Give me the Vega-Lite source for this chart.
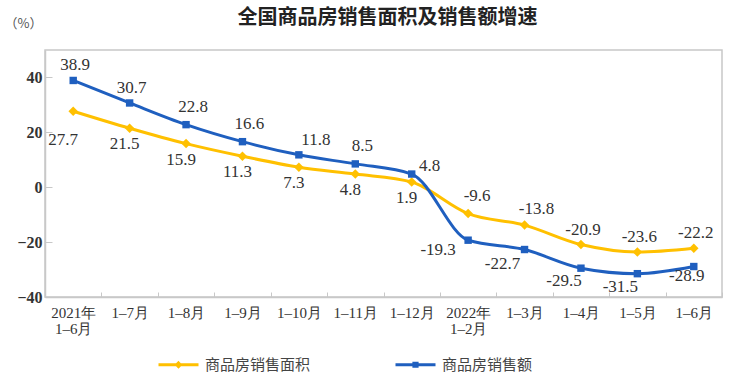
{
  "$schema": "https://vega.github.io/schema/vega-lite/v6.json",
  "width": 677,
  "height": 247,
  "autosize": {"type": "none"},
  "padding": {"left": 45, "top": 50, "right": 28, "bottom": 92},
  "background": "white",
  "title": {"text": "全国商品房销售面积及销售额增速", "font": "Noto Sans CJK SC", "fontSize": 20, "fontWeight": "bold", "color": "#222", "offset": 0, "dy": 11, "dx": 4, "anchor": "middle"},
  "config": {"view": {"stroke": "#c8c8c8", "strokeWidth": 1.5}},
  "data": {"values": [
    {"s": "商品房销售面积", "p": "2021年|1–6月", "v": 27.7},
    {"s": "商品房销售面积", "p": "1–7月", "v": 21.5},
    {"s": "商品房销售面积", "p": "1–8月", "v": 15.9},
    {"s": "商品房销售面积", "p": "1–9月", "v": 11.3},
    {"s": "商品房销售面积", "p": "1–10月", "v": 7.3},
    {"s": "商品房销售面积", "p": "1–11月", "v": 4.8},
    {"s": "商品房销售面积", "p": "1–12月", "v": 1.9},
    {"s": "商品房销售面积", "p": "2022年|1–2月", "v": -9.6},
    {"s": "商品房销售面积", "p": "1–3月", "v": -13.8},
    {"s": "商品房销售面积", "p": "1–4月", "v": -20.9},
    {"s": "商品房销售面积", "p": "1–5月", "v": -23.6},
    {"s": "商品房销售面积", "p": "1–6月", "v": -22.2},
    {"s": "商品房销售额", "p": "2021年|1–6月", "v": 38.9},
    {"s": "商品房销售额", "p": "1–7月", "v": 30.7},
    {"s": "商品房销售额", "p": "1–8月", "v": 22.8},
    {"s": "商品房销售额", "p": "1–9月", "v": 16.6},
    {"s": "商品房销售额", "p": "1–10月", "v": 11.8},
    {"s": "商品房销售额", "p": "1–11月", "v": 8.5},
    {"s": "商品房销售额", "p": "1–12月", "v": 4.8},
    {"s": "商品房销售额", "p": "2022年|1–2月", "v": -19.3},
    {"s": "商品房销售额", "p": "1–3月", "v": -22.7},
    {"s": "商品房销售额", "p": "1–4月", "v": -29.5},
    {"s": "商品房销售额", "p": "1–5月", "v": -31.5},
    {"s": "商品房销售额", "p": "1–6月", "v": -28.9}
  ]},
  "encoding": {
    "x": {
      "field": "p", "type": "nominal", "bandPosition": 0.5,
      "scale": {"type": "band", "paddingInner": 0, "paddingOuter": 0,
        "domain": ["2021年|1–6月", "1–7月", "1–8月", "1–9月", "1–10月", "1–11月", "1–12月", "2022年|1–2月", "1–3月", "1–4月", "1–5月", "1–6月"]},
      "axis": {"title": null, "labelExpr": "split(datum.label, '|')", "labelAngle": 0, "tickBand": "extent", "tickSize": -5, "tickColor": "#c8c8c8", "domainColor": "#c8c8c8", "domainWidth": 1.5, "labelFont": "Liberation Serif", "labelFontSize": 15, "labelColor": "#333", "labelPadding": 13, "labelLineHeight": 16, "labelBaseline": "top"}
    },
    "y": {
      "field": "v", "type": "quantitative",
      "scale": {"domain": [-40, 50], "nice": false, "zero": false},
      "axis": {"values": [-40, -20, 0, 20, 40], "title": "（%）", "titleAngle": 0, "titleX": -22, "titleY": -27, "titleAlign": "center", "titleBaseline": "middle", "titleFont": "Noto Sans CJK SC", "titleFontWeight": "normal", "titleFontSize": 13, "titleColor": "#555", "grid": false, "tickSize": -7, "tickColor": "#c8c8c8", "domainColor": "#c8c8c8", "domainWidth": 1.5, "labelFont": "Liberation Serif", "labelFontWeight": "bold", "labelFontSize": 16, "labelColor": "#333", "labelPadding": 10}
    }
  },
  "layer": [
    {
      "mark": {"type": "line", "interpolate": "monotone", "strokeWidth": 3},
      "encoding": {
        "color": {"field": "s", "type": "nominal",
          "scale": {"domain": ["商品房销售面积", "商品房销售额"], "range": ["#FFC000", "#1F5FBF"]},
          "legend": {"title": null, "orient": "none", "legendX": 112, "legendY": 293, "direction": "horizontal", "symbolSize": 1600, "symbolStrokeWidth": 3, "labelFont": "Noto Sans CJK SC", "labelFontSize": 15, "labelColor": "#444", "columnPadding": 78, "labelOffset": 5,
            "encode": {"symbols": {"update": {
              "shape": {"signal": "datum.value === '商品房销售额' ? 'M-1,0H1M-0.08,-0.08H0.08V0.08H-0.08Z' : 'M-1,0H1M0,-0.09L0.09,0L0,0.09L-0.09,0Z'"},
              "fill": {"signal": "datum.value === '商品房销售额' ? '#1F5FBF' : '#FFC000'"},
              "stroke": {"signal": "datum.value === '商品房销售额' ? '#1F5FBF' : '#FFC000'"},
              "strokeWidth": {"value": 3},
              "opacity": {"value": 1}
            }}}}
        }
      }
    },
    {
      "transform": [{"filter": "datum.s === '商品房销售面积'"}],
      "mark": {"type": "point", "shape": "diamond", "filled": true, "opacity": 1, "size": 90, "color": "#FFC000"}
    },
    {
      "transform": [{"filter": "datum.s === '商品房销售额'"}],
      "mark": {"type": "point", "shape": "square", "filled": true, "opacity": 1, "size": 55, "color": "#1F5FBF"}
    },
    {
      "transform": [{"filter": "datum.s === '商品房销售额' && indexof(['2021年|1–6月','1–7月'], datum.p) >= 0"}],
      "mark": {"type": "text", "font": "Liberation Serif", "fontSize": 17, "color": "#333", "baseline": "middle", "dx": 2, "dy": -15},
      "encoding": {"text": {"field": "v", "type": "nominal"}}
    },
    {
      "transform": [{"filter": "datum.s === '商品房销售额' && indexof(['1–8月','1–9月','1–11月'], datum.p) >= 0"}],
      "mark": {"type": "text", "font": "Liberation Serif", "fontSize": 17, "color": "#333", "baseline": "middle", "dx": 7, "dy": -18},
      "encoding": {"text": {"field": "v", "type": "nominal"}}
    },
    {
      "transform": [{"filter": "datum.s === '商品房销售额' && datum.p === '1–10月'"}],
      "mark": {"type": "text", "font": "Liberation Serif", "fontSize": 17, "color": "#333", "baseline": "middle", "dx": 17, "dy": -15},
      "encoding": {"text": {"field": "v", "type": "nominal"}}
    },
    {
      "transform": [{"filter": "datum.s === '商品房销售额' && datum.p === '1–12月'"}],
      "mark": {"type": "text", "font": "Liberation Serif", "fontSize": 17, "color": "#333", "baseline": "middle", "dx": 18, "dy": -8},
      "encoding": {"text": {"field": "v", "type": "nominal"}}
    },
    {
      "transform": [{"filter": "datum.s === '商品房销售额' && datum.p === '2022年|1–2月'"}],
      "mark": {"type": "text", "font": "Liberation Serif", "fontSize": 17, "color": "#333", "baseline": "middle", "dx": -30, "dy": 10},
      "encoding": {"text": {"field": "v", "type": "nominal"}}
    },
    {
      "transform": [{"filter": "datum.s === '商品房销售额' && datum.p === '1–3月'"}],
      "mark": {"type": "text", "font": "Liberation Serif", "fontSize": 17, "color": "#333", "baseline": "middle", "dx": -22, "dy": 14},
      "encoding": {"text": {"field": "v", "type": "nominal"}}
    },
    {
      "transform": [{"filter": "datum.s === '商品房销售额' && indexof(['1–4月','1–5月'], datum.p) >= 0"}],
      "mark": {"type": "text", "font": "Liberation Serif", "fontSize": 17, "color": "#333", "baseline": "middle", "dx": -17, "dy": 13},
      "encoding": {"text": {"field": "v", "type": "nominal"}}
    },
    {
      "transform": [{"filter": "datum.s === '商品房销售额' && datum.p === '1–6月'"}],
      "mark": {"type": "text", "font": "Liberation Serif", "fontSize": 17, "color": "#333", "baseline": "middle", "dx": -7, "dy": 9},
      "encoding": {"text": {"field": "v", "type": "nominal"}}
    },
    {
      "transform": [{"filter": "datum.s === '商品房销售面积' && datum.p === '2021年|1–6月'"}],
      "mark": {"type": "text", "font": "Liberation Serif", "fontSize": 17, "color": "#333", "baseline": "middle", "dx": -10, "dy": 29},
      "encoding": {"text": {"field": "v", "type": "nominal"}}
    },
    {
      "transform": [{"filter": "datum.s === '商品房销售面积' && indexof(['1–7月','1–8月','1–9月','1–10月','1–11月','1–12月'], datum.p) >= 0"}],
      "mark": {"type": "text", "font": "Liberation Serif", "fontSize": 17, "color": "#333", "baseline": "middle", "dx": -5, "dy": 16},
      "encoding": {"text": {"field": "v", "type": "nominal"}}
    },
    {
      "transform": [{"filter": "datum.s === '商品房销售面积' && datum.p === '2022年|1–2月'"}],
      "mark": {"type": "text", "font": "Liberation Serif", "fontSize": 17, "color": "#333", "baseline": "middle", "dx": 9, "dy": -18},
      "encoding": {"text": {"field": "v", "type": "nominal"}}
    },
    {
      "transform": [{"filter": "datum.s === '商品房销售面积' && datum.p === '1–3月'"}],
      "mark": {"type": "text", "font": "Liberation Serif", "fontSize": 17, "color": "#333", "baseline": "middle", "dx": 12, "dy": -16},
      "encoding": {"text": {"field": "v", "type": "nominal"}}
    },
    {
      "transform": [{"filter": "datum.s === '商品房销售面积' && indexof(['1–4月','1–5月','1–6月'], datum.p) >= 0"}],
      "mark": {"type": "text", "font": "Liberation Serif", "fontSize": 17, "color": "#333", "baseline": "middle", "dx": 2, "dy": -15},
      "encoding": {"text": {"field": "v", "type": "nominal"}}
    }
  ]
}
